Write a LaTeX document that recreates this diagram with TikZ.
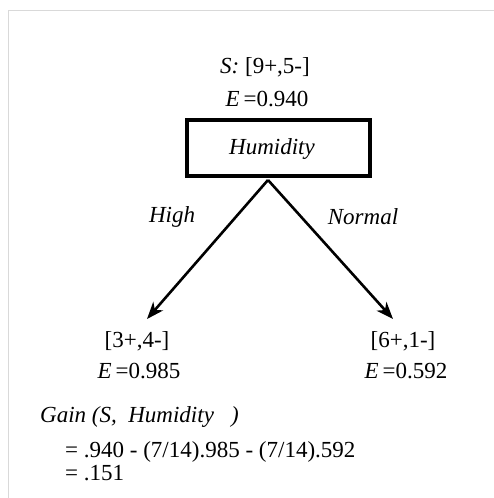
\documentclass[tikz,border=0pt]{standalone}
\usepackage{fontspec}
\setmainfont{Liberation Serif}
\usetikzlibrary{arrows.meta}
\begin{document}
\begin{tikzpicture}[x=1pt,y=-1pt,
  txt/.style={inner sep=0pt,font=\fontsize{23}{27}\selectfont},
  itx/.style={txt,font=\fontsize{23}{27}\selectfont\itshape},
  conn/.style={line width=2.6pt,-{Stealth[length=17pt,width=13pt,inset=5pt]}}]
\useasboundingbox (0,0) rectangle (493,498);
\draw[color=black!15,line width=1.2pt] (8.5,520) -- (8.5,10.5) -- (520,10.5);
\node[txt] (s) at (265,67) {\textit{S:} [9+,5-]};
\node[txt] (es) at (267,99) {\textit{E}\,=0.940};
\node[draw,line width=4pt,minimum width=183pt,minimum height=56pt,inner sep=0pt] (box) at (278.5,148) {};
\node[itx] (hum) at (272,149) {Humidity};
\coordinate (apex) at (268,180);
\coordinate (tipL) at (147,319);
\coordinate (tipR) at (393,319);
\draw[conn] (apex) -- (tipL);
\draw[conn] (apex) -- (tipR);
\node[itx] (high) at (172,217) {High};
\node[itx] (normal) at (363,217) {Normal};
\node[txt] (l1) at (137,341) {[3+,4-]};
\node[txt] (l2) at (139,371) {\textit{E}\,=0.985};
\node[txt] (r1) at (403,341) {[6+,1-]};
\node[txt] (r2) at (406,371) {\textit{E}\,=0.592};
\node[itx,anchor=west] (gain) at (40,417) {Gain (S,\ \ Humidity\ \ \ )};
\node[txt,anchor=west] (g1) at (65,452) {= .940 - (7/14).985 - (7/14).592};
\node[txt,anchor=west] (g2) at (65,473) {= .151};
\end{tikzpicture}
\end{document}
